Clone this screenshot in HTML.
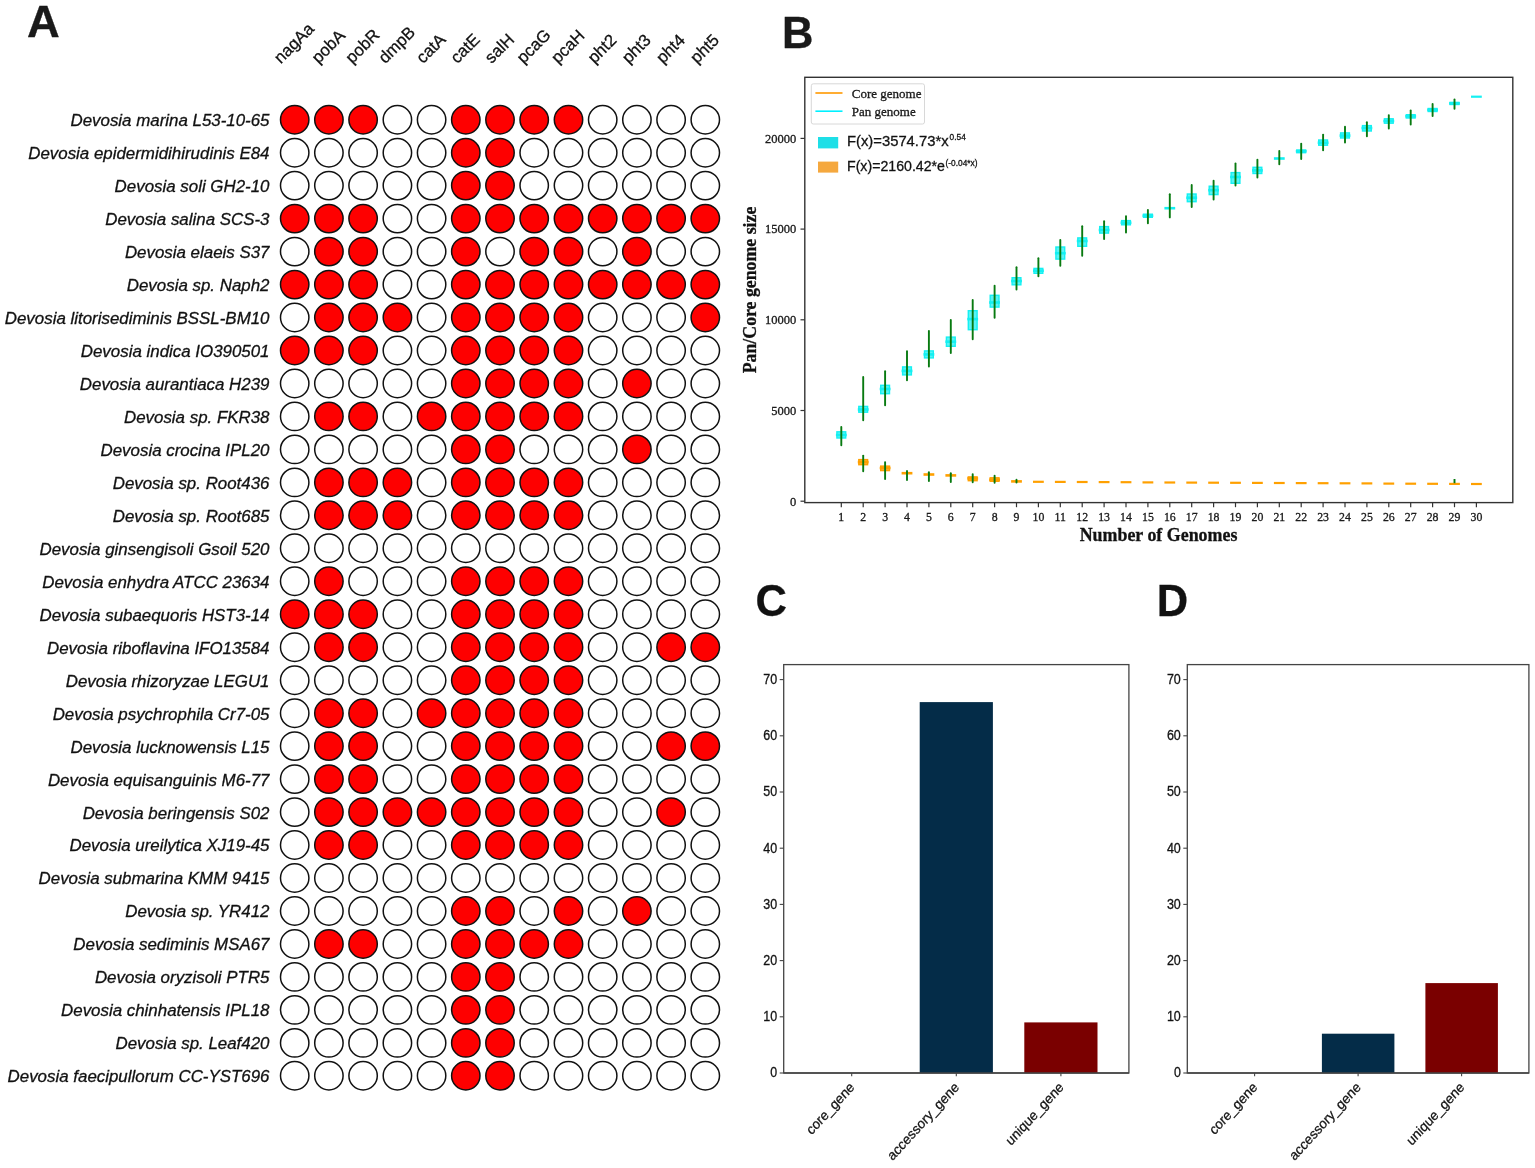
<!DOCTYPE html>
<html><head><meta charset="utf-8"><title>Devosia figure</title>
<style>
html,body{margin:0;padding:0;background:#fff;}
body{width:1535px;height:1168px;overflow:hidden;}
svg{display:block;}
text{stroke:#151515;stroke-width:0.3px;}
</style></head>
<body>
<svg width="1535" height="1168" viewBox="0 0 1535 1168">
<rect x="0" y="0" width="1535" height="1168" fill="#fff"/>
<text x="0" y="0" transform="translate(27 37) scale(1.02 1)" font-family='"Liberation Sans", Arial, sans-serif' font-weight="bold" font-size="44.5" fill="#1a1a1a">A</text>
<text x="280.8" y="64.3" transform="rotate(-45 280.8 64.3)" font-family='"Liberation Sans", Arial, sans-serif' font-size="16.8" fill="#111">nagAa</text>
<text x="318.4" y="64.3" transform="rotate(-45 318.4 64.3)" font-family='"Liberation Sans", Arial, sans-serif' font-size="16.8" fill="#111">pobA</text>
<text x="352.3" y="64.3" transform="rotate(-45 352.3 64.3)" font-family='"Liberation Sans", Arial, sans-serif' font-size="16.8" fill="#111">pobR</text>
<text x="385.2" y="64.3" transform="rotate(-45 385.2 64.3)" font-family='"Liberation Sans", Arial, sans-serif' font-size="16.8" fill="#111">dmpB</text>
<text x="423.0" y="64.3" transform="rotate(-45 423.0 64.3)" font-family='"Liberation Sans", Arial, sans-serif' font-size="16.8" fill="#111">catA</text>
<text x="457.2" y="64.3" transform="rotate(-45 457.2 64.3)" font-family='"Liberation Sans", Arial, sans-serif' font-size="16.8" fill="#111">catE</text>
<text x="491.5" y="64.3" transform="rotate(-45 491.5 64.3)" font-family='"Liberation Sans", Arial, sans-serif' font-size="16.8" fill="#111">salH</text>
<text x="523.4" y="64.3" transform="rotate(-45 523.4 64.3)" font-family='"Liberation Sans", Arial, sans-serif' font-size="16.8" fill="#111">pcaG</text>
<text x="557.9" y="64.3" transform="rotate(-45 557.9 64.3)" font-family='"Liberation Sans", Arial, sans-serif' font-size="16.8" fill="#111">pcaH</text>
<text x="594.4" y="64.3" transform="rotate(-45 594.4 64.3)" font-family='"Liberation Sans", Arial, sans-serif' font-size="16.8" fill="#111">pht2</text>
<text x="628.7" y="64.3" transform="rotate(-45 628.7 64.3)" font-family='"Liberation Sans", Arial, sans-serif' font-size="16.8" fill="#111">pht3</text>
<text x="662.9" y="64.3" transform="rotate(-45 662.9 64.3)" font-family='"Liberation Sans", Arial, sans-serif' font-size="16.8" fill="#111">pht4</text>
<text x="697.1" y="64.3" transform="rotate(-45 697.1 64.3)" font-family='"Liberation Sans", Arial, sans-serif' font-size="16.8" fill="#111">pht5</text>
<text x="269.5" y="126.1" text-anchor="end" font-family='"Liberation Sans", Arial, sans-serif' font-style="italic" font-size="16.9" fill="#111">Devosia marina L53-10-65</text>
<circle cx="294.7" cy="119.7" r="14.2" fill="#fe0000" stroke="#111" stroke-width="1.5"/>
<circle cx="328.9" cy="119.7" r="14.2" fill="#fe0000" stroke="#111" stroke-width="1.5"/>
<circle cx="363.1" cy="119.7" r="14.2" fill="#fe0000" stroke="#111" stroke-width="1.5"/>
<circle cx="397.4" cy="119.7" r="14.2" fill="#ffffff" stroke="#111" stroke-width="1.5"/>
<circle cx="431.6" cy="119.7" r="14.2" fill="#ffffff" stroke="#111" stroke-width="1.5"/>
<circle cx="465.8" cy="119.7" r="14.2" fill="#fe0000" stroke="#111" stroke-width="1.5"/>
<circle cx="500.0" cy="119.7" r="14.2" fill="#fe0000" stroke="#111" stroke-width="1.5"/>
<circle cx="534.2" cy="119.7" r="14.2" fill="#fe0000" stroke="#111" stroke-width="1.5"/>
<circle cx="568.5" cy="119.7" r="14.2" fill="#fe0000" stroke="#111" stroke-width="1.5"/>
<circle cx="602.7" cy="119.7" r="14.2" fill="#ffffff" stroke="#111" stroke-width="1.5"/>
<circle cx="636.9" cy="119.7" r="14.2" fill="#ffffff" stroke="#111" stroke-width="1.5"/>
<circle cx="671.1" cy="119.7" r="14.2" fill="#ffffff" stroke="#111" stroke-width="1.5"/>
<circle cx="705.3" cy="119.7" r="14.2" fill="#ffffff" stroke="#111" stroke-width="1.5"/>
<text x="269.5" y="159.1" text-anchor="end" font-family='"Liberation Sans", Arial, sans-serif' font-style="italic" font-size="16.9" fill="#111">Devosia epidermidihirudinis E84</text>
<circle cx="294.7" cy="152.7" r="14.2" fill="#ffffff" stroke="#111" stroke-width="1.5"/>
<circle cx="328.9" cy="152.7" r="14.2" fill="#ffffff" stroke="#111" stroke-width="1.5"/>
<circle cx="363.1" cy="152.7" r="14.2" fill="#ffffff" stroke="#111" stroke-width="1.5"/>
<circle cx="397.4" cy="152.7" r="14.2" fill="#ffffff" stroke="#111" stroke-width="1.5"/>
<circle cx="431.6" cy="152.7" r="14.2" fill="#ffffff" stroke="#111" stroke-width="1.5"/>
<circle cx="465.8" cy="152.7" r="14.2" fill="#fe0000" stroke="#111" stroke-width="1.5"/>
<circle cx="500.0" cy="152.7" r="14.2" fill="#fe0000" stroke="#111" stroke-width="1.5"/>
<circle cx="534.2" cy="152.7" r="14.2" fill="#ffffff" stroke="#111" stroke-width="1.5"/>
<circle cx="568.5" cy="152.7" r="14.2" fill="#ffffff" stroke="#111" stroke-width="1.5"/>
<circle cx="602.7" cy="152.7" r="14.2" fill="#ffffff" stroke="#111" stroke-width="1.5"/>
<circle cx="636.9" cy="152.7" r="14.2" fill="#ffffff" stroke="#111" stroke-width="1.5"/>
<circle cx="671.1" cy="152.7" r="14.2" fill="#ffffff" stroke="#111" stroke-width="1.5"/>
<circle cx="705.3" cy="152.7" r="14.2" fill="#ffffff" stroke="#111" stroke-width="1.5"/>
<text x="269.5" y="192.0" text-anchor="end" font-family='"Liberation Sans", Arial, sans-serif' font-style="italic" font-size="16.9" fill="#111">Devosia soli GH2-10</text>
<circle cx="294.7" cy="185.6" r="14.2" fill="#ffffff" stroke="#111" stroke-width="1.5"/>
<circle cx="328.9" cy="185.6" r="14.2" fill="#ffffff" stroke="#111" stroke-width="1.5"/>
<circle cx="363.1" cy="185.6" r="14.2" fill="#ffffff" stroke="#111" stroke-width="1.5"/>
<circle cx="397.4" cy="185.6" r="14.2" fill="#ffffff" stroke="#111" stroke-width="1.5"/>
<circle cx="431.6" cy="185.6" r="14.2" fill="#ffffff" stroke="#111" stroke-width="1.5"/>
<circle cx="465.8" cy="185.6" r="14.2" fill="#fe0000" stroke="#111" stroke-width="1.5"/>
<circle cx="500.0" cy="185.6" r="14.2" fill="#fe0000" stroke="#111" stroke-width="1.5"/>
<circle cx="534.2" cy="185.6" r="14.2" fill="#ffffff" stroke="#111" stroke-width="1.5"/>
<circle cx="568.5" cy="185.6" r="14.2" fill="#ffffff" stroke="#111" stroke-width="1.5"/>
<circle cx="602.7" cy="185.6" r="14.2" fill="#ffffff" stroke="#111" stroke-width="1.5"/>
<circle cx="636.9" cy="185.6" r="14.2" fill="#ffffff" stroke="#111" stroke-width="1.5"/>
<circle cx="671.1" cy="185.6" r="14.2" fill="#ffffff" stroke="#111" stroke-width="1.5"/>
<circle cx="705.3" cy="185.6" r="14.2" fill="#ffffff" stroke="#111" stroke-width="1.5"/>
<text x="269.5" y="225.0" text-anchor="end" font-family='"Liberation Sans", Arial, sans-serif' font-style="italic" font-size="16.9" fill="#111">Devosia salina SCS-3</text>
<circle cx="294.7" cy="218.6" r="14.2" fill="#fe0000" stroke="#111" stroke-width="1.5"/>
<circle cx="328.9" cy="218.6" r="14.2" fill="#fe0000" stroke="#111" stroke-width="1.5"/>
<circle cx="363.1" cy="218.6" r="14.2" fill="#fe0000" stroke="#111" stroke-width="1.5"/>
<circle cx="397.4" cy="218.6" r="14.2" fill="#ffffff" stroke="#111" stroke-width="1.5"/>
<circle cx="431.6" cy="218.6" r="14.2" fill="#ffffff" stroke="#111" stroke-width="1.5"/>
<circle cx="465.8" cy="218.6" r="14.2" fill="#fe0000" stroke="#111" stroke-width="1.5"/>
<circle cx="500.0" cy="218.6" r="14.2" fill="#fe0000" stroke="#111" stroke-width="1.5"/>
<circle cx="534.2" cy="218.6" r="14.2" fill="#fe0000" stroke="#111" stroke-width="1.5"/>
<circle cx="568.5" cy="218.6" r="14.2" fill="#fe0000" stroke="#111" stroke-width="1.5"/>
<circle cx="602.7" cy="218.6" r="14.2" fill="#fe0000" stroke="#111" stroke-width="1.5"/>
<circle cx="636.9" cy="218.6" r="14.2" fill="#fe0000" stroke="#111" stroke-width="1.5"/>
<circle cx="671.1" cy="218.6" r="14.2" fill="#fe0000" stroke="#111" stroke-width="1.5"/>
<circle cx="705.3" cy="218.6" r="14.2" fill="#fe0000" stroke="#111" stroke-width="1.5"/>
<text x="269.5" y="258.0" text-anchor="end" font-family='"Liberation Sans", Arial, sans-serif' font-style="italic" font-size="16.9" fill="#111">Devosia elaeis S37</text>
<circle cx="294.7" cy="251.6" r="14.2" fill="#ffffff" stroke="#111" stroke-width="1.5"/>
<circle cx="328.9" cy="251.6" r="14.2" fill="#fe0000" stroke="#111" stroke-width="1.5"/>
<circle cx="363.1" cy="251.6" r="14.2" fill="#fe0000" stroke="#111" stroke-width="1.5"/>
<circle cx="397.4" cy="251.6" r="14.2" fill="#ffffff" stroke="#111" stroke-width="1.5"/>
<circle cx="431.6" cy="251.6" r="14.2" fill="#ffffff" stroke="#111" stroke-width="1.5"/>
<circle cx="465.8" cy="251.6" r="14.2" fill="#fe0000" stroke="#111" stroke-width="1.5"/>
<circle cx="500.0" cy="251.6" r="14.2" fill="#ffffff" stroke="#111" stroke-width="1.5"/>
<circle cx="534.2" cy="251.6" r="14.2" fill="#fe0000" stroke="#111" stroke-width="1.5"/>
<circle cx="568.5" cy="251.6" r="14.2" fill="#fe0000" stroke="#111" stroke-width="1.5"/>
<circle cx="602.7" cy="251.6" r="14.2" fill="#ffffff" stroke="#111" stroke-width="1.5"/>
<circle cx="636.9" cy="251.6" r="14.2" fill="#fe0000" stroke="#111" stroke-width="1.5"/>
<circle cx="671.1" cy="251.6" r="14.2" fill="#ffffff" stroke="#111" stroke-width="1.5"/>
<circle cx="705.3" cy="251.6" r="14.2" fill="#ffffff" stroke="#111" stroke-width="1.5"/>
<text x="269.5" y="290.9" text-anchor="end" font-family='"Liberation Sans", Arial, sans-serif' font-style="italic" font-size="16.9" fill="#111">Devosia sp. Naph2</text>
<circle cx="294.7" cy="284.6" r="14.2" fill="#fe0000" stroke="#111" stroke-width="1.5"/>
<circle cx="328.9" cy="284.6" r="14.2" fill="#fe0000" stroke="#111" stroke-width="1.5"/>
<circle cx="363.1" cy="284.6" r="14.2" fill="#fe0000" stroke="#111" stroke-width="1.5"/>
<circle cx="397.4" cy="284.6" r="14.2" fill="#ffffff" stroke="#111" stroke-width="1.5"/>
<circle cx="431.6" cy="284.6" r="14.2" fill="#ffffff" stroke="#111" stroke-width="1.5"/>
<circle cx="465.8" cy="284.6" r="14.2" fill="#fe0000" stroke="#111" stroke-width="1.5"/>
<circle cx="500.0" cy="284.6" r="14.2" fill="#fe0000" stroke="#111" stroke-width="1.5"/>
<circle cx="534.2" cy="284.6" r="14.2" fill="#fe0000" stroke="#111" stroke-width="1.5"/>
<circle cx="568.5" cy="284.6" r="14.2" fill="#fe0000" stroke="#111" stroke-width="1.5"/>
<circle cx="602.7" cy="284.6" r="14.2" fill="#fe0000" stroke="#111" stroke-width="1.5"/>
<circle cx="636.9" cy="284.6" r="14.2" fill="#fe0000" stroke="#111" stroke-width="1.5"/>
<circle cx="671.1" cy="284.6" r="14.2" fill="#fe0000" stroke="#111" stroke-width="1.5"/>
<circle cx="705.3" cy="284.6" r="14.2" fill="#fe0000" stroke="#111" stroke-width="1.5"/>
<text x="269.5" y="323.9" text-anchor="end" font-family='"Liberation Sans", Arial, sans-serif' font-style="italic" font-size="16.9" fill="#111">Devosia litorisediminis BSSL-BM10</text>
<circle cx="294.7" cy="317.5" r="14.2" fill="#ffffff" stroke="#111" stroke-width="1.5"/>
<circle cx="328.9" cy="317.5" r="14.2" fill="#fe0000" stroke="#111" stroke-width="1.5"/>
<circle cx="363.1" cy="317.5" r="14.2" fill="#fe0000" stroke="#111" stroke-width="1.5"/>
<circle cx="397.4" cy="317.5" r="14.2" fill="#fe0000" stroke="#111" stroke-width="1.5"/>
<circle cx="431.6" cy="317.5" r="14.2" fill="#ffffff" stroke="#111" stroke-width="1.5"/>
<circle cx="465.8" cy="317.5" r="14.2" fill="#fe0000" stroke="#111" stroke-width="1.5"/>
<circle cx="500.0" cy="317.5" r="14.2" fill="#fe0000" stroke="#111" stroke-width="1.5"/>
<circle cx="534.2" cy="317.5" r="14.2" fill="#fe0000" stroke="#111" stroke-width="1.5"/>
<circle cx="568.5" cy="317.5" r="14.2" fill="#fe0000" stroke="#111" stroke-width="1.5"/>
<circle cx="602.7" cy="317.5" r="14.2" fill="#ffffff" stroke="#111" stroke-width="1.5"/>
<circle cx="636.9" cy="317.5" r="14.2" fill="#ffffff" stroke="#111" stroke-width="1.5"/>
<circle cx="671.1" cy="317.5" r="14.2" fill="#ffffff" stroke="#111" stroke-width="1.5"/>
<circle cx="705.3" cy="317.5" r="14.2" fill="#fe0000" stroke="#111" stroke-width="1.5"/>
<text x="269.5" y="356.9" text-anchor="end" font-family='"Liberation Sans", Arial, sans-serif' font-style="italic" font-size="16.9" fill="#111">Devosia indica IO390501</text>
<circle cx="294.7" cy="350.5" r="14.2" fill="#fe0000" stroke="#111" stroke-width="1.5"/>
<circle cx="328.9" cy="350.5" r="14.2" fill="#fe0000" stroke="#111" stroke-width="1.5"/>
<circle cx="363.1" cy="350.5" r="14.2" fill="#fe0000" stroke="#111" stroke-width="1.5"/>
<circle cx="397.4" cy="350.5" r="14.2" fill="#ffffff" stroke="#111" stroke-width="1.5"/>
<circle cx="431.6" cy="350.5" r="14.2" fill="#ffffff" stroke="#111" stroke-width="1.5"/>
<circle cx="465.8" cy="350.5" r="14.2" fill="#fe0000" stroke="#111" stroke-width="1.5"/>
<circle cx="500.0" cy="350.5" r="14.2" fill="#fe0000" stroke="#111" stroke-width="1.5"/>
<circle cx="534.2" cy="350.5" r="14.2" fill="#fe0000" stroke="#111" stroke-width="1.5"/>
<circle cx="568.5" cy="350.5" r="14.2" fill="#fe0000" stroke="#111" stroke-width="1.5"/>
<circle cx="602.7" cy="350.5" r="14.2" fill="#ffffff" stroke="#111" stroke-width="1.5"/>
<circle cx="636.9" cy="350.5" r="14.2" fill="#ffffff" stroke="#111" stroke-width="1.5"/>
<circle cx="671.1" cy="350.5" r="14.2" fill="#ffffff" stroke="#111" stroke-width="1.5"/>
<circle cx="705.3" cy="350.5" r="14.2" fill="#ffffff" stroke="#111" stroke-width="1.5"/>
<text x="269.5" y="389.9" text-anchor="end" font-family='"Liberation Sans", Arial, sans-serif' font-style="italic" font-size="16.9" fill="#111">Devosia aurantiaca H239</text>
<circle cx="294.7" cy="383.5" r="14.2" fill="#ffffff" stroke="#111" stroke-width="1.5"/>
<circle cx="328.9" cy="383.5" r="14.2" fill="#ffffff" stroke="#111" stroke-width="1.5"/>
<circle cx="363.1" cy="383.5" r="14.2" fill="#ffffff" stroke="#111" stroke-width="1.5"/>
<circle cx="397.4" cy="383.5" r="14.2" fill="#ffffff" stroke="#111" stroke-width="1.5"/>
<circle cx="431.6" cy="383.5" r="14.2" fill="#ffffff" stroke="#111" stroke-width="1.5"/>
<circle cx="465.8" cy="383.5" r="14.2" fill="#fe0000" stroke="#111" stroke-width="1.5"/>
<circle cx="500.0" cy="383.5" r="14.2" fill="#fe0000" stroke="#111" stroke-width="1.5"/>
<circle cx="534.2" cy="383.5" r="14.2" fill="#fe0000" stroke="#111" stroke-width="1.5"/>
<circle cx="568.5" cy="383.5" r="14.2" fill="#fe0000" stroke="#111" stroke-width="1.5"/>
<circle cx="602.7" cy="383.5" r="14.2" fill="#ffffff" stroke="#111" stroke-width="1.5"/>
<circle cx="636.9" cy="383.5" r="14.2" fill="#fe0000" stroke="#111" stroke-width="1.5"/>
<circle cx="671.1" cy="383.5" r="14.2" fill="#ffffff" stroke="#111" stroke-width="1.5"/>
<circle cx="705.3" cy="383.5" r="14.2" fill="#ffffff" stroke="#111" stroke-width="1.5"/>
<text x="269.5" y="422.8" text-anchor="end" font-family='"Liberation Sans", Arial, sans-serif' font-style="italic" font-size="16.9" fill="#111">Devosia sp. FKR38</text>
<circle cx="294.7" cy="416.4" r="14.2" fill="#ffffff" stroke="#111" stroke-width="1.5"/>
<circle cx="328.9" cy="416.4" r="14.2" fill="#fe0000" stroke="#111" stroke-width="1.5"/>
<circle cx="363.1" cy="416.4" r="14.2" fill="#fe0000" stroke="#111" stroke-width="1.5"/>
<circle cx="397.4" cy="416.4" r="14.2" fill="#ffffff" stroke="#111" stroke-width="1.5"/>
<circle cx="431.6" cy="416.4" r="14.2" fill="#fe0000" stroke="#111" stroke-width="1.5"/>
<circle cx="465.8" cy="416.4" r="14.2" fill="#fe0000" stroke="#111" stroke-width="1.5"/>
<circle cx="500.0" cy="416.4" r="14.2" fill="#fe0000" stroke="#111" stroke-width="1.5"/>
<circle cx="534.2" cy="416.4" r="14.2" fill="#fe0000" stroke="#111" stroke-width="1.5"/>
<circle cx="568.5" cy="416.4" r="14.2" fill="#fe0000" stroke="#111" stroke-width="1.5"/>
<circle cx="602.7" cy="416.4" r="14.2" fill="#ffffff" stroke="#111" stroke-width="1.5"/>
<circle cx="636.9" cy="416.4" r="14.2" fill="#ffffff" stroke="#111" stroke-width="1.5"/>
<circle cx="671.1" cy="416.4" r="14.2" fill="#ffffff" stroke="#111" stroke-width="1.5"/>
<circle cx="705.3" cy="416.4" r="14.2" fill="#ffffff" stroke="#111" stroke-width="1.5"/>
<text x="269.5" y="455.8" text-anchor="end" font-family='"Liberation Sans", Arial, sans-serif' font-style="italic" font-size="16.9" fill="#111">Devosia crocina IPL20</text>
<circle cx="294.7" cy="449.4" r="14.2" fill="#ffffff" stroke="#111" stroke-width="1.5"/>
<circle cx="328.9" cy="449.4" r="14.2" fill="#ffffff" stroke="#111" stroke-width="1.5"/>
<circle cx="363.1" cy="449.4" r="14.2" fill="#ffffff" stroke="#111" stroke-width="1.5"/>
<circle cx="397.4" cy="449.4" r="14.2" fill="#ffffff" stroke="#111" stroke-width="1.5"/>
<circle cx="431.6" cy="449.4" r="14.2" fill="#ffffff" stroke="#111" stroke-width="1.5"/>
<circle cx="465.8" cy="449.4" r="14.2" fill="#fe0000" stroke="#111" stroke-width="1.5"/>
<circle cx="500.0" cy="449.4" r="14.2" fill="#fe0000" stroke="#111" stroke-width="1.5"/>
<circle cx="534.2" cy="449.4" r="14.2" fill="#ffffff" stroke="#111" stroke-width="1.5"/>
<circle cx="568.5" cy="449.4" r="14.2" fill="#ffffff" stroke="#111" stroke-width="1.5"/>
<circle cx="602.7" cy="449.4" r="14.2" fill="#ffffff" stroke="#111" stroke-width="1.5"/>
<circle cx="636.9" cy="449.4" r="14.2" fill="#fe0000" stroke="#111" stroke-width="1.5"/>
<circle cx="671.1" cy="449.4" r="14.2" fill="#ffffff" stroke="#111" stroke-width="1.5"/>
<circle cx="705.3" cy="449.4" r="14.2" fill="#ffffff" stroke="#111" stroke-width="1.5"/>
<text x="269.5" y="488.8" text-anchor="end" font-family='"Liberation Sans", Arial, sans-serif' font-style="italic" font-size="16.9" fill="#111">Devosia sp. Root436</text>
<circle cx="294.7" cy="482.4" r="14.2" fill="#ffffff" stroke="#111" stroke-width="1.5"/>
<circle cx="328.9" cy="482.4" r="14.2" fill="#fe0000" stroke="#111" stroke-width="1.5"/>
<circle cx="363.1" cy="482.4" r="14.2" fill="#fe0000" stroke="#111" stroke-width="1.5"/>
<circle cx="397.4" cy="482.4" r="14.2" fill="#fe0000" stroke="#111" stroke-width="1.5"/>
<circle cx="431.6" cy="482.4" r="14.2" fill="#ffffff" stroke="#111" stroke-width="1.5"/>
<circle cx="465.8" cy="482.4" r="14.2" fill="#fe0000" stroke="#111" stroke-width="1.5"/>
<circle cx="500.0" cy="482.4" r="14.2" fill="#fe0000" stroke="#111" stroke-width="1.5"/>
<circle cx="534.2" cy="482.4" r="14.2" fill="#fe0000" stroke="#111" stroke-width="1.5"/>
<circle cx="568.5" cy="482.4" r="14.2" fill="#fe0000" stroke="#111" stroke-width="1.5"/>
<circle cx="602.7" cy="482.4" r="14.2" fill="#ffffff" stroke="#111" stroke-width="1.5"/>
<circle cx="636.9" cy="482.4" r="14.2" fill="#ffffff" stroke="#111" stroke-width="1.5"/>
<circle cx="671.1" cy="482.4" r="14.2" fill="#ffffff" stroke="#111" stroke-width="1.5"/>
<circle cx="705.3" cy="482.4" r="14.2" fill="#ffffff" stroke="#111" stroke-width="1.5"/>
<text x="269.5" y="521.7" text-anchor="end" font-family='"Liberation Sans", Arial, sans-serif' font-style="italic" font-size="16.9" fill="#111">Devosia sp. Root685</text>
<circle cx="294.7" cy="515.3" r="14.2" fill="#ffffff" stroke="#111" stroke-width="1.5"/>
<circle cx="328.9" cy="515.3" r="14.2" fill="#fe0000" stroke="#111" stroke-width="1.5"/>
<circle cx="363.1" cy="515.3" r="14.2" fill="#fe0000" stroke="#111" stroke-width="1.5"/>
<circle cx="397.4" cy="515.3" r="14.2" fill="#fe0000" stroke="#111" stroke-width="1.5"/>
<circle cx="431.6" cy="515.3" r="14.2" fill="#ffffff" stroke="#111" stroke-width="1.5"/>
<circle cx="465.8" cy="515.3" r="14.2" fill="#fe0000" stroke="#111" stroke-width="1.5"/>
<circle cx="500.0" cy="515.3" r="14.2" fill="#fe0000" stroke="#111" stroke-width="1.5"/>
<circle cx="534.2" cy="515.3" r="14.2" fill="#fe0000" stroke="#111" stroke-width="1.5"/>
<circle cx="568.5" cy="515.3" r="14.2" fill="#fe0000" stroke="#111" stroke-width="1.5"/>
<circle cx="602.7" cy="515.3" r="14.2" fill="#ffffff" stroke="#111" stroke-width="1.5"/>
<circle cx="636.9" cy="515.3" r="14.2" fill="#ffffff" stroke="#111" stroke-width="1.5"/>
<circle cx="671.1" cy="515.3" r="14.2" fill="#ffffff" stroke="#111" stroke-width="1.5"/>
<circle cx="705.3" cy="515.3" r="14.2" fill="#ffffff" stroke="#111" stroke-width="1.5"/>
<text x="269.5" y="554.7" text-anchor="end" font-family='"Liberation Sans", Arial, sans-serif' font-style="italic" font-size="16.9" fill="#111">Devosia ginsengisoli Gsoil 520</text>
<circle cx="294.7" cy="548.3" r="14.2" fill="#ffffff" stroke="#111" stroke-width="1.5"/>
<circle cx="328.9" cy="548.3" r="14.2" fill="#ffffff" stroke="#111" stroke-width="1.5"/>
<circle cx="363.1" cy="548.3" r="14.2" fill="#ffffff" stroke="#111" stroke-width="1.5"/>
<circle cx="397.4" cy="548.3" r="14.2" fill="#ffffff" stroke="#111" stroke-width="1.5"/>
<circle cx="431.6" cy="548.3" r="14.2" fill="#ffffff" stroke="#111" stroke-width="1.5"/>
<circle cx="465.8" cy="548.3" r="14.2" fill="#ffffff" stroke="#111" stroke-width="1.5"/>
<circle cx="500.0" cy="548.3" r="14.2" fill="#ffffff" stroke="#111" stroke-width="1.5"/>
<circle cx="534.2" cy="548.3" r="14.2" fill="#ffffff" stroke="#111" stroke-width="1.5"/>
<circle cx="568.5" cy="548.3" r="14.2" fill="#ffffff" stroke="#111" stroke-width="1.5"/>
<circle cx="602.7" cy="548.3" r="14.2" fill="#ffffff" stroke="#111" stroke-width="1.5"/>
<circle cx="636.9" cy="548.3" r="14.2" fill="#ffffff" stroke="#111" stroke-width="1.5"/>
<circle cx="671.1" cy="548.3" r="14.2" fill="#ffffff" stroke="#111" stroke-width="1.5"/>
<circle cx="705.3" cy="548.3" r="14.2" fill="#ffffff" stroke="#111" stroke-width="1.5"/>
<text x="269.5" y="587.7" text-anchor="end" font-family='"Liberation Sans", Arial, sans-serif' font-style="italic" font-size="16.9" fill="#111">Devosia enhydra ATCC 23634</text>
<circle cx="294.7" cy="581.3" r="14.2" fill="#ffffff" stroke="#111" stroke-width="1.5"/>
<circle cx="328.9" cy="581.3" r="14.2" fill="#fe0000" stroke="#111" stroke-width="1.5"/>
<circle cx="363.1" cy="581.3" r="14.2" fill="#ffffff" stroke="#111" stroke-width="1.5"/>
<circle cx="397.4" cy="581.3" r="14.2" fill="#ffffff" stroke="#111" stroke-width="1.5"/>
<circle cx="431.6" cy="581.3" r="14.2" fill="#ffffff" stroke="#111" stroke-width="1.5"/>
<circle cx="465.8" cy="581.3" r="14.2" fill="#fe0000" stroke="#111" stroke-width="1.5"/>
<circle cx="500.0" cy="581.3" r="14.2" fill="#fe0000" stroke="#111" stroke-width="1.5"/>
<circle cx="534.2" cy="581.3" r="14.2" fill="#fe0000" stroke="#111" stroke-width="1.5"/>
<circle cx="568.5" cy="581.3" r="14.2" fill="#fe0000" stroke="#111" stroke-width="1.5"/>
<circle cx="602.7" cy="581.3" r="14.2" fill="#ffffff" stroke="#111" stroke-width="1.5"/>
<circle cx="636.9" cy="581.3" r="14.2" fill="#ffffff" stroke="#111" stroke-width="1.5"/>
<circle cx="671.1" cy="581.3" r="14.2" fill="#ffffff" stroke="#111" stroke-width="1.5"/>
<circle cx="705.3" cy="581.3" r="14.2" fill="#ffffff" stroke="#111" stroke-width="1.5"/>
<text x="269.5" y="620.6" text-anchor="end" font-family='"Liberation Sans", Arial, sans-serif' font-style="italic" font-size="16.9" fill="#111">Devosia subaequoris HST3-14</text>
<circle cx="294.7" cy="614.2" r="14.2" fill="#fe0000" stroke="#111" stroke-width="1.5"/>
<circle cx="328.9" cy="614.2" r="14.2" fill="#fe0000" stroke="#111" stroke-width="1.5"/>
<circle cx="363.1" cy="614.2" r="14.2" fill="#fe0000" stroke="#111" stroke-width="1.5"/>
<circle cx="397.4" cy="614.2" r="14.2" fill="#ffffff" stroke="#111" stroke-width="1.5"/>
<circle cx="431.6" cy="614.2" r="14.2" fill="#ffffff" stroke="#111" stroke-width="1.5"/>
<circle cx="465.8" cy="614.2" r="14.2" fill="#fe0000" stroke="#111" stroke-width="1.5"/>
<circle cx="500.0" cy="614.2" r="14.2" fill="#fe0000" stroke="#111" stroke-width="1.5"/>
<circle cx="534.2" cy="614.2" r="14.2" fill="#fe0000" stroke="#111" stroke-width="1.5"/>
<circle cx="568.5" cy="614.2" r="14.2" fill="#fe0000" stroke="#111" stroke-width="1.5"/>
<circle cx="602.7" cy="614.2" r="14.2" fill="#ffffff" stroke="#111" stroke-width="1.5"/>
<circle cx="636.9" cy="614.2" r="14.2" fill="#ffffff" stroke="#111" stroke-width="1.5"/>
<circle cx="671.1" cy="614.2" r="14.2" fill="#ffffff" stroke="#111" stroke-width="1.5"/>
<circle cx="705.3" cy="614.2" r="14.2" fill="#ffffff" stroke="#111" stroke-width="1.5"/>
<text x="269.5" y="653.6" text-anchor="end" font-family='"Liberation Sans", Arial, sans-serif' font-style="italic" font-size="16.9" fill="#111">Devosia riboflavina IFO13584</text>
<circle cx="294.7" cy="647.2" r="14.2" fill="#ffffff" stroke="#111" stroke-width="1.5"/>
<circle cx="328.9" cy="647.2" r="14.2" fill="#fe0000" stroke="#111" stroke-width="1.5"/>
<circle cx="363.1" cy="647.2" r="14.2" fill="#fe0000" stroke="#111" stroke-width="1.5"/>
<circle cx="397.4" cy="647.2" r="14.2" fill="#ffffff" stroke="#111" stroke-width="1.5"/>
<circle cx="431.6" cy="647.2" r="14.2" fill="#ffffff" stroke="#111" stroke-width="1.5"/>
<circle cx="465.8" cy="647.2" r="14.2" fill="#fe0000" stroke="#111" stroke-width="1.5"/>
<circle cx="500.0" cy="647.2" r="14.2" fill="#fe0000" stroke="#111" stroke-width="1.5"/>
<circle cx="534.2" cy="647.2" r="14.2" fill="#fe0000" stroke="#111" stroke-width="1.5"/>
<circle cx="568.5" cy="647.2" r="14.2" fill="#fe0000" stroke="#111" stroke-width="1.5"/>
<circle cx="602.7" cy="647.2" r="14.2" fill="#ffffff" stroke="#111" stroke-width="1.5"/>
<circle cx="636.9" cy="647.2" r="14.2" fill="#ffffff" stroke="#111" stroke-width="1.5"/>
<circle cx="671.1" cy="647.2" r="14.2" fill="#fe0000" stroke="#111" stroke-width="1.5"/>
<circle cx="705.3" cy="647.2" r="14.2" fill="#fe0000" stroke="#111" stroke-width="1.5"/>
<text x="269.5" y="686.6" text-anchor="end" font-family='"Liberation Sans", Arial, sans-serif' font-style="italic" font-size="16.9" fill="#111">Devosia rhizoryzae LEGU1</text>
<circle cx="294.7" cy="680.2" r="14.2" fill="#ffffff" stroke="#111" stroke-width="1.5"/>
<circle cx="328.9" cy="680.2" r="14.2" fill="#ffffff" stroke="#111" stroke-width="1.5"/>
<circle cx="363.1" cy="680.2" r="14.2" fill="#ffffff" stroke="#111" stroke-width="1.5"/>
<circle cx="397.4" cy="680.2" r="14.2" fill="#ffffff" stroke="#111" stroke-width="1.5"/>
<circle cx="431.6" cy="680.2" r="14.2" fill="#ffffff" stroke="#111" stroke-width="1.5"/>
<circle cx="465.8" cy="680.2" r="14.2" fill="#fe0000" stroke="#111" stroke-width="1.5"/>
<circle cx="500.0" cy="680.2" r="14.2" fill="#fe0000" stroke="#111" stroke-width="1.5"/>
<circle cx="534.2" cy="680.2" r="14.2" fill="#fe0000" stroke="#111" stroke-width="1.5"/>
<circle cx="568.5" cy="680.2" r="14.2" fill="#fe0000" stroke="#111" stroke-width="1.5"/>
<circle cx="602.7" cy="680.2" r="14.2" fill="#ffffff" stroke="#111" stroke-width="1.5"/>
<circle cx="636.9" cy="680.2" r="14.2" fill="#ffffff" stroke="#111" stroke-width="1.5"/>
<circle cx="671.1" cy="680.2" r="14.2" fill="#ffffff" stroke="#111" stroke-width="1.5"/>
<circle cx="705.3" cy="680.2" r="14.2" fill="#ffffff" stroke="#111" stroke-width="1.5"/>
<text x="269.5" y="719.6" text-anchor="end" font-family='"Liberation Sans", Arial, sans-serif' font-style="italic" font-size="16.9" fill="#111">Devosia psychrophila Cr7-05</text>
<circle cx="294.7" cy="713.2" r="14.2" fill="#ffffff" stroke="#111" stroke-width="1.5"/>
<circle cx="328.9" cy="713.2" r="14.2" fill="#fe0000" stroke="#111" stroke-width="1.5"/>
<circle cx="363.1" cy="713.2" r="14.2" fill="#fe0000" stroke="#111" stroke-width="1.5"/>
<circle cx="397.4" cy="713.2" r="14.2" fill="#ffffff" stroke="#111" stroke-width="1.5"/>
<circle cx="431.6" cy="713.2" r="14.2" fill="#fe0000" stroke="#111" stroke-width="1.5"/>
<circle cx="465.8" cy="713.2" r="14.2" fill="#fe0000" stroke="#111" stroke-width="1.5"/>
<circle cx="500.0" cy="713.2" r="14.2" fill="#fe0000" stroke="#111" stroke-width="1.5"/>
<circle cx="534.2" cy="713.2" r="14.2" fill="#fe0000" stroke="#111" stroke-width="1.5"/>
<circle cx="568.5" cy="713.2" r="14.2" fill="#fe0000" stroke="#111" stroke-width="1.5"/>
<circle cx="602.7" cy="713.2" r="14.2" fill="#ffffff" stroke="#111" stroke-width="1.5"/>
<circle cx="636.9" cy="713.2" r="14.2" fill="#ffffff" stroke="#111" stroke-width="1.5"/>
<circle cx="671.1" cy="713.2" r="14.2" fill="#ffffff" stroke="#111" stroke-width="1.5"/>
<circle cx="705.3" cy="713.2" r="14.2" fill="#ffffff" stroke="#111" stroke-width="1.5"/>
<text x="269.5" y="752.5" text-anchor="end" font-family='"Liberation Sans", Arial, sans-serif' font-style="italic" font-size="16.9" fill="#111">Devosia lucknowensis L15</text>
<circle cx="294.7" cy="746.1" r="14.2" fill="#ffffff" stroke="#111" stroke-width="1.5"/>
<circle cx="328.9" cy="746.1" r="14.2" fill="#fe0000" stroke="#111" stroke-width="1.5"/>
<circle cx="363.1" cy="746.1" r="14.2" fill="#fe0000" stroke="#111" stroke-width="1.5"/>
<circle cx="397.4" cy="746.1" r="14.2" fill="#ffffff" stroke="#111" stroke-width="1.5"/>
<circle cx="431.6" cy="746.1" r="14.2" fill="#ffffff" stroke="#111" stroke-width="1.5"/>
<circle cx="465.8" cy="746.1" r="14.2" fill="#fe0000" stroke="#111" stroke-width="1.5"/>
<circle cx="500.0" cy="746.1" r="14.2" fill="#fe0000" stroke="#111" stroke-width="1.5"/>
<circle cx="534.2" cy="746.1" r="14.2" fill="#fe0000" stroke="#111" stroke-width="1.5"/>
<circle cx="568.5" cy="746.1" r="14.2" fill="#fe0000" stroke="#111" stroke-width="1.5"/>
<circle cx="602.7" cy="746.1" r="14.2" fill="#ffffff" stroke="#111" stroke-width="1.5"/>
<circle cx="636.9" cy="746.1" r="14.2" fill="#ffffff" stroke="#111" stroke-width="1.5"/>
<circle cx="671.1" cy="746.1" r="14.2" fill="#fe0000" stroke="#111" stroke-width="1.5"/>
<circle cx="705.3" cy="746.1" r="14.2" fill="#fe0000" stroke="#111" stroke-width="1.5"/>
<text x="269.5" y="785.5" text-anchor="end" font-family='"Liberation Sans", Arial, sans-serif' font-style="italic" font-size="16.9" fill="#111">Devosia equisanguinis M6-77</text>
<circle cx="294.7" cy="779.1" r="14.2" fill="#ffffff" stroke="#111" stroke-width="1.5"/>
<circle cx="328.9" cy="779.1" r="14.2" fill="#fe0000" stroke="#111" stroke-width="1.5"/>
<circle cx="363.1" cy="779.1" r="14.2" fill="#fe0000" stroke="#111" stroke-width="1.5"/>
<circle cx="397.4" cy="779.1" r="14.2" fill="#ffffff" stroke="#111" stroke-width="1.5"/>
<circle cx="431.6" cy="779.1" r="14.2" fill="#ffffff" stroke="#111" stroke-width="1.5"/>
<circle cx="465.8" cy="779.1" r="14.2" fill="#fe0000" stroke="#111" stroke-width="1.5"/>
<circle cx="500.0" cy="779.1" r="14.2" fill="#fe0000" stroke="#111" stroke-width="1.5"/>
<circle cx="534.2" cy="779.1" r="14.2" fill="#fe0000" stroke="#111" stroke-width="1.5"/>
<circle cx="568.5" cy="779.1" r="14.2" fill="#fe0000" stroke="#111" stroke-width="1.5"/>
<circle cx="602.7" cy="779.1" r="14.2" fill="#ffffff" stroke="#111" stroke-width="1.5"/>
<circle cx="636.9" cy="779.1" r="14.2" fill="#ffffff" stroke="#111" stroke-width="1.5"/>
<circle cx="671.1" cy="779.1" r="14.2" fill="#ffffff" stroke="#111" stroke-width="1.5"/>
<circle cx="705.3" cy="779.1" r="14.2" fill="#ffffff" stroke="#111" stroke-width="1.5"/>
<text x="269.5" y="818.5" text-anchor="end" font-family='"Liberation Sans", Arial, sans-serif' font-style="italic" font-size="16.9" fill="#111">Devosia beringensis S02</text>
<circle cx="294.7" cy="812.1" r="14.2" fill="#ffffff" stroke="#111" stroke-width="1.5"/>
<circle cx="328.9" cy="812.1" r="14.2" fill="#fe0000" stroke="#111" stroke-width="1.5"/>
<circle cx="363.1" cy="812.1" r="14.2" fill="#fe0000" stroke="#111" stroke-width="1.5"/>
<circle cx="397.4" cy="812.1" r="14.2" fill="#fe0000" stroke="#111" stroke-width="1.5"/>
<circle cx="431.6" cy="812.1" r="14.2" fill="#fe0000" stroke="#111" stroke-width="1.5"/>
<circle cx="465.8" cy="812.1" r="14.2" fill="#fe0000" stroke="#111" stroke-width="1.5"/>
<circle cx="500.0" cy="812.1" r="14.2" fill="#fe0000" stroke="#111" stroke-width="1.5"/>
<circle cx="534.2" cy="812.1" r="14.2" fill="#fe0000" stroke="#111" stroke-width="1.5"/>
<circle cx="568.5" cy="812.1" r="14.2" fill="#fe0000" stroke="#111" stroke-width="1.5"/>
<circle cx="602.7" cy="812.1" r="14.2" fill="#ffffff" stroke="#111" stroke-width="1.5"/>
<circle cx="636.9" cy="812.1" r="14.2" fill="#ffffff" stroke="#111" stroke-width="1.5"/>
<circle cx="671.1" cy="812.1" r="14.2" fill="#fe0000" stroke="#111" stroke-width="1.5"/>
<circle cx="705.3" cy="812.1" r="14.2" fill="#ffffff" stroke="#111" stroke-width="1.5"/>
<text x="269.5" y="851.4" text-anchor="end" font-family='"Liberation Sans", Arial, sans-serif' font-style="italic" font-size="16.9" fill="#111">Devosia ureilytica XJ19-45</text>
<circle cx="294.7" cy="845.0" r="14.2" fill="#ffffff" stroke="#111" stroke-width="1.5"/>
<circle cx="328.9" cy="845.0" r="14.2" fill="#fe0000" stroke="#111" stroke-width="1.5"/>
<circle cx="363.1" cy="845.0" r="14.2" fill="#fe0000" stroke="#111" stroke-width="1.5"/>
<circle cx="397.4" cy="845.0" r="14.2" fill="#ffffff" stroke="#111" stroke-width="1.5"/>
<circle cx="431.6" cy="845.0" r="14.2" fill="#ffffff" stroke="#111" stroke-width="1.5"/>
<circle cx="465.8" cy="845.0" r="14.2" fill="#fe0000" stroke="#111" stroke-width="1.5"/>
<circle cx="500.0" cy="845.0" r="14.2" fill="#fe0000" stroke="#111" stroke-width="1.5"/>
<circle cx="534.2" cy="845.0" r="14.2" fill="#fe0000" stroke="#111" stroke-width="1.5"/>
<circle cx="568.5" cy="845.0" r="14.2" fill="#fe0000" stroke="#111" stroke-width="1.5"/>
<circle cx="602.7" cy="845.0" r="14.2" fill="#ffffff" stroke="#111" stroke-width="1.5"/>
<circle cx="636.9" cy="845.0" r="14.2" fill="#ffffff" stroke="#111" stroke-width="1.5"/>
<circle cx="671.1" cy="845.0" r="14.2" fill="#ffffff" stroke="#111" stroke-width="1.5"/>
<circle cx="705.3" cy="845.0" r="14.2" fill="#ffffff" stroke="#111" stroke-width="1.5"/>
<text x="269.5" y="884.4" text-anchor="end" font-family='"Liberation Sans", Arial, sans-serif' font-style="italic" font-size="16.9" fill="#111">Devosia submarina KMM 9415</text>
<circle cx="294.7" cy="878.0" r="14.2" fill="#ffffff" stroke="#111" stroke-width="1.5"/>
<circle cx="328.9" cy="878.0" r="14.2" fill="#ffffff" stroke="#111" stroke-width="1.5"/>
<circle cx="363.1" cy="878.0" r="14.2" fill="#ffffff" stroke="#111" stroke-width="1.5"/>
<circle cx="397.4" cy="878.0" r="14.2" fill="#ffffff" stroke="#111" stroke-width="1.5"/>
<circle cx="431.6" cy="878.0" r="14.2" fill="#ffffff" stroke="#111" stroke-width="1.5"/>
<circle cx="465.8" cy="878.0" r="14.2" fill="#ffffff" stroke="#111" stroke-width="1.5"/>
<circle cx="500.0" cy="878.0" r="14.2" fill="#ffffff" stroke="#111" stroke-width="1.5"/>
<circle cx="534.2" cy="878.0" r="14.2" fill="#ffffff" stroke="#111" stroke-width="1.5"/>
<circle cx="568.5" cy="878.0" r="14.2" fill="#ffffff" stroke="#111" stroke-width="1.5"/>
<circle cx="602.7" cy="878.0" r="14.2" fill="#ffffff" stroke="#111" stroke-width="1.5"/>
<circle cx="636.9" cy="878.0" r="14.2" fill="#ffffff" stroke="#111" stroke-width="1.5"/>
<circle cx="671.1" cy="878.0" r="14.2" fill="#ffffff" stroke="#111" stroke-width="1.5"/>
<circle cx="705.3" cy="878.0" r="14.2" fill="#ffffff" stroke="#111" stroke-width="1.5"/>
<text x="269.5" y="917.4" text-anchor="end" font-family='"Liberation Sans", Arial, sans-serif' font-style="italic" font-size="16.9" fill="#111">Devosia sp. YR412</text>
<circle cx="294.7" cy="911.0" r="14.2" fill="#ffffff" stroke="#111" stroke-width="1.5"/>
<circle cx="328.9" cy="911.0" r="14.2" fill="#ffffff" stroke="#111" stroke-width="1.5"/>
<circle cx="363.1" cy="911.0" r="14.2" fill="#ffffff" stroke="#111" stroke-width="1.5"/>
<circle cx="397.4" cy="911.0" r="14.2" fill="#ffffff" stroke="#111" stroke-width="1.5"/>
<circle cx="431.6" cy="911.0" r="14.2" fill="#ffffff" stroke="#111" stroke-width="1.5"/>
<circle cx="465.8" cy="911.0" r="14.2" fill="#fe0000" stroke="#111" stroke-width="1.5"/>
<circle cx="500.0" cy="911.0" r="14.2" fill="#fe0000" stroke="#111" stroke-width="1.5"/>
<circle cx="534.2" cy="911.0" r="14.2" fill="#ffffff" stroke="#111" stroke-width="1.5"/>
<circle cx="568.5" cy="911.0" r="14.2" fill="#fe0000" stroke="#111" stroke-width="1.5"/>
<circle cx="602.7" cy="911.0" r="14.2" fill="#ffffff" stroke="#111" stroke-width="1.5"/>
<circle cx="636.9" cy="911.0" r="14.2" fill="#fe0000" stroke="#111" stroke-width="1.5"/>
<circle cx="671.1" cy="911.0" r="14.2" fill="#ffffff" stroke="#111" stroke-width="1.5"/>
<circle cx="705.3" cy="911.0" r="14.2" fill="#ffffff" stroke="#111" stroke-width="1.5"/>
<text x="269.5" y="950.4" text-anchor="end" font-family='"Liberation Sans", Arial, sans-serif' font-style="italic" font-size="16.9" fill="#111">Devosia sediminis MSA67</text>
<circle cx="294.7" cy="944.0" r="14.2" fill="#ffffff" stroke="#111" stroke-width="1.5"/>
<circle cx="328.9" cy="944.0" r="14.2" fill="#fe0000" stroke="#111" stroke-width="1.5"/>
<circle cx="363.1" cy="944.0" r="14.2" fill="#fe0000" stroke="#111" stroke-width="1.5"/>
<circle cx="397.4" cy="944.0" r="14.2" fill="#ffffff" stroke="#111" stroke-width="1.5"/>
<circle cx="431.6" cy="944.0" r="14.2" fill="#ffffff" stroke="#111" stroke-width="1.5"/>
<circle cx="465.8" cy="944.0" r="14.2" fill="#fe0000" stroke="#111" stroke-width="1.5"/>
<circle cx="500.0" cy="944.0" r="14.2" fill="#fe0000" stroke="#111" stroke-width="1.5"/>
<circle cx="534.2" cy="944.0" r="14.2" fill="#fe0000" stroke="#111" stroke-width="1.5"/>
<circle cx="568.5" cy="944.0" r="14.2" fill="#fe0000" stroke="#111" stroke-width="1.5"/>
<circle cx="602.7" cy="944.0" r="14.2" fill="#ffffff" stroke="#111" stroke-width="1.5"/>
<circle cx="636.9" cy="944.0" r="14.2" fill="#ffffff" stroke="#111" stroke-width="1.5"/>
<circle cx="671.1" cy="944.0" r="14.2" fill="#ffffff" stroke="#111" stroke-width="1.5"/>
<circle cx="705.3" cy="944.0" r="14.2" fill="#ffffff" stroke="#111" stroke-width="1.5"/>
<text x="269.5" y="983.3" text-anchor="end" font-family='"Liberation Sans", Arial, sans-serif' font-style="italic" font-size="16.9" fill="#111">Devosia oryzisoli PTR5</text>
<circle cx="294.7" cy="976.9" r="14.2" fill="#ffffff" stroke="#111" stroke-width="1.5"/>
<circle cx="328.9" cy="976.9" r="14.2" fill="#ffffff" stroke="#111" stroke-width="1.5"/>
<circle cx="363.1" cy="976.9" r="14.2" fill="#ffffff" stroke="#111" stroke-width="1.5"/>
<circle cx="397.4" cy="976.9" r="14.2" fill="#ffffff" stroke="#111" stroke-width="1.5"/>
<circle cx="431.6" cy="976.9" r="14.2" fill="#ffffff" stroke="#111" stroke-width="1.5"/>
<circle cx="465.8" cy="976.9" r="14.2" fill="#fe0000" stroke="#111" stroke-width="1.5"/>
<circle cx="500.0" cy="976.9" r="14.2" fill="#fe0000" stroke="#111" stroke-width="1.5"/>
<circle cx="534.2" cy="976.9" r="14.2" fill="#ffffff" stroke="#111" stroke-width="1.5"/>
<circle cx="568.5" cy="976.9" r="14.2" fill="#ffffff" stroke="#111" stroke-width="1.5"/>
<circle cx="602.7" cy="976.9" r="14.2" fill="#ffffff" stroke="#111" stroke-width="1.5"/>
<circle cx="636.9" cy="976.9" r="14.2" fill="#ffffff" stroke="#111" stroke-width="1.5"/>
<circle cx="671.1" cy="976.9" r="14.2" fill="#ffffff" stroke="#111" stroke-width="1.5"/>
<circle cx="705.3" cy="976.9" r="14.2" fill="#ffffff" stroke="#111" stroke-width="1.5"/>
<text x="269.5" y="1016.3" text-anchor="end" font-family='"Liberation Sans", Arial, sans-serif' font-style="italic" font-size="16.9" fill="#111">Devosia chinhatensis IPL18</text>
<circle cx="294.7" cy="1009.9" r="14.2" fill="#ffffff" stroke="#111" stroke-width="1.5"/>
<circle cx="328.9" cy="1009.9" r="14.2" fill="#ffffff" stroke="#111" stroke-width="1.5"/>
<circle cx="363.1" cy="1009.9" r="14.2" fill="#ffffff" stroke="#111" stroke-width="1.5"/>
<circle cx="397.4" cy="1009.9" r="14.2" fill="#ffffff" stroke="#111" stroke-width="1.5"/>
<circle cx="431.6" cy="1009.9" r="14.2" fill="#ffffff" stroke="#111" stroke-width="1.5"/>
<circle cx="465.8" cy="1009.9" r="14.2" fill="#fe0000" stroke="#111" stroke-width="1.5"/>
<circle cx="500.0" cy="1009.9" r="14.2" fill="#fe0000" stroke="#111" stroke-width="1.5"/>
<circle cx="534.2" cy="1009.9" r="14.2" fill="#ffffff" stroke="#111" stroke-width="1.5"/>
<circle cx="568.5" cy="1009.9" r="14.2" fill="#ffffff" stroke="#111" stroke-width="1.5"/>
<circle cx="602.7" cy="1009.9" r="14.2" fill="#ffffff" stroke="#111" stroke-width="1.5"/>
<circle cx="636.9" cy="1009.9" r="14.2" fill="#ffffff" stroke="#111" stroke-width="1.5"/>
<circle cx="671.1" cy="1009.9" r="14.2" fill="#ffffff" stroke="#111" stroke-width="1.5"/>
<circle cx="705.3" cy="1009.9" r="14.2" fill="#ffffff" stroke="#111" stroke-width="1.5"/>
<text x="269.5" y="1049.3" text-anchor="end" font-family='"Liberation Sans", Arial, sans-serif' font-style="italic" font-size="16.9" fill="#111">Devosia sp. Leaf420</text>
<circle cx="294.7" cy="1042.9" r="14.2" fill="#ffffff" stroke="#111" stroke-width="1.5"/>
<circle cx="328.9" cy="1042.9" r="14.2" fill="#ffffff" stroke="#111" stroke-width="1.5"/>
<circle cx="363.1" cy="1042.9" r="14.2" fill="#ffffff" stroke="#111" stroke-width="1.5"/>
<circle cx="397.4" cy="1042.9" r="14.2" fill="#ffffff" stroke="#111" stroke-width="1.5"/>
<circle cx="431.6" cy="1042.9" r="14.2" fill="#ffffff" stroke="#111" stroke-width="1.5"/>
<circle cx="465.8" cy="1042.9" r="14.2" fill="#fe0000" stroke="#111" stroke-width="1.5"/>
<circle cx="500.0" cy="1042.9" r="14.2" fill="#fe0000" stroke="#111" stroke-width="1.5"/>
<circle cx="534.2" cy="1042.9" r="14.2" fill="#ffffff" stroke="#111" stroke-width="1.5"/>
<circle cx="568.5" cy="1042.9" r="14.2" fill="#ffffff" stroke="#111" stroke-width="1.5"/>
<circle cx="602.7" cy="1042.9" r="14.2" fill="#ffffff" stroke="#111" stroke-width="1.5"/>
<circle cx="636.9" cy="1042.9" r="14.2" fill="#ffffff" stroke="#111" stroke-width="1.5"/>
<circle cx="671.1" cy="1042.9" r="14.2" fill="#ffffff" stroke="#111" stroke-width="1.5"/>
<circle cx="705.3" cy="1042.9" r="14.2" fill="#ffffff" stroke="#111" stroke-width="1.5"/>
<text x="269.5" y="1082.2" text-anchor="end" font-family='"Liberation Sans", Arial, sans-serif' font-style="italic" font-size="16.9" fill="#111">Devosia faecipullorum CC-YST696</text>
<circle cx="294.7" cy="1075.8" r="14.2" fill="#ffffff" stroke="#111" stroke-width="1.5"/>
<circle cx="328.9" cy="1075.8" r="14.2" fill="#ffffff" stroke="#111" stroke-width="1.5"/>
<circle cx="363.1" cy="1075.8" r="14.2" fill="#ffffff" stroke="#111" stroke-width="1.5"/>
<circle cx="397.4" cy="1075.8" r="14.2" fill="#ffffff" stroke="#111" stroke-width="1.5"/>
<circle cx="431.6" cy="1075.8" r="14.2" fill="#ffffff" stroke="#111" stroke-width="1.5"/>
<circle cx="465.8" cy="1075.8" r="14.2" fill="#fe0000" stroke="#111" stroke-width="1.5"/>
<circle cx="500.0" cy="1075.8" r="14.2" fill="#fe0000" stroke="#111" stroke-width="1.5"/>
<circle cx="534.2" cy="1075.8" r="14.2" fill="#ffffff" stroke="#111" stroke-width="1.5"/>
<circle cx="568.5" cy="1075.8" r="14.2" fill="#ffffff" stroke="#111" stroke-width="1.5"/>
<circle cx="602.7" cy="1075.8" r="14.2" fill="#ffffff" stroke="#111" stroke-width="1.5"/>
<circle cx="636.9" cy="1075.8" r="14.2" fill="#ffffff" stroke="#111" stroke-width="1.5"/>
<circle cx="671.1" cy="1075.8" r="14.2" fill="#ffffff" stroke="#111" stroke-width="1.5"/>
<circle cx="705.3" cy="1075.8" r="14.2" fill="#ffffff" stroke="#111" stroke-width="1.5"/>
<text x="782" y="48" font-family='"Liberation Sans", Arial, sans-serif' font-weight="bold" font-size="43.5" fill="#1a1a1a">B</text>
<rect x="804.8" y="77.3" width="708.0" height="425.3" fill="none" stroke="#333" stroke-width="1.4"/>
<line x1="800.5" y1="501.2" x2="804.8" y2="501.2" stroke="#333" stroke-width="1.2"/>
<text x="796.3" y="505.5" text-anchor="end" font-family='"Liberation Serif", "Times New Roman", serif' font-size="12.5" fill="#222">0</text>
<line x1="800.5" y1="410.5" x2="804.8" y2="410.5" stroke="#333" stroke-width="1.2"/>
<text x="796.3" y="414.8" text-anchor="end" font-family='"Liberation Serif", "Times New Roman", serif' font-size="12.5" fill="#222">5000</text>
<line x1="800.5" y1="319.8" x2="804.8" y2="319.8" stroke="#333" stroke-width="1.2"/>
<text x="796.3" y="324.1" text-anchor="end" font-family='"Liberation Serif", "Times New Roman", serif' font-size="12.5" fill="#222">10000</text>
<line x1="800.5" y1="229.1" x2="804.8" y2="229.1" stroke="#333" stroke-width="1.2"/>
<text x="796.3" y="233.4" text-anchor="end" font-family='"Liberation Serif", "Times New Roman", serif' font-size="12.5" fill="#222">15000</text>
<line x1="800.5" y1="138.4" x2="804.8" y2="138.4" stroke="#333" stroke-width="1.2"/>
<text x="796.3" y="142.7" text-anchor="end" font-family='"Liberation Serif", "Times New Roman", serif' font-size="12.5" fill="#222">20000</text>
<line x1="841.3" y1="502.6" x2="841.3" y2="507.2" stroke="#333" stroke-width="1.2"/>
<text x="841.3" y="520.8" text-anchor="middle" font-family='"Liberation Serif", "Times New Roman", serif' font-size="11.8" fill="#222">1</text>
<line x1="863.2" y1="502.6" x2="863.2" y2="507.2" stroke="#333" stroke-width="1.2"/>
<text x="863.2" y="520.8" text-anchor="middle" font-family='"Liberation Serif", "Times New Roman", serif' font-size="11.8" fill="#222">2</text>
<line x1="885.1" y1="502.6" x2="885.1" y2="507.2" stroke="#333" stroke-width="1.2"/>
<text x="885.1" y="520.8" text-anchor="middle" font-family='"Liberation Serif", "Times New Roman", serif' font-size="11.8" fill="#222">3</text>
<line x1="907.0" y1="502.6" x2="907.0" y2="507.2" stroke="#333" stroke-width="1.2"/>
<text x="907.0" y="520.8" text-anchor="middle" font-family='"Liberation Serif", "Times New Roman", serif' font-size="11.8" fill="#222">4</text>
<line x1="928.9" y1="502.6" x2="928.9" y2="507.2" stroke="#333" stroke-width="1.2"/>
<text x="928.9" y="520.8" text-anchor="middle" font-family='"Liberation Serif", "Times New Roman", serif' font-size="11.8" fill="#222">5</text>
<line x1="950.8" y1="502.6" x2="950.8" y2="507.2" stroke="#333" stroke-width="1.2"/>
<text x="950.8" y="520.8" text-anchor="middle" font-family='"Liberation Serif", "Times New Roman", serif' font-size="11.8" fill="#222">6</text>
<line x1="972.7" y1="502.6" x2="972.7" y2="507.2" stroke="#333" stroke-width="1.2"/>
<text x="972.7" y="520.8" text-anchor="middle" font-family='"Liberation Serif", "Times New Roman", serif' font-size="11.8" fill="#222">7</text>
<line x1="994.6" y1="502.6" x2="994.6" y2="507.2" stroke="#333" stroke-width="1.2"/>
<text x="994.6" y="520.8" text-anchor="middle" font-family='"Liberation Serif", "Times New Roman", serif' font-size="11.8" fill="#222">8</text>
<line x1="1016.5" y1="502.6" x2="1016.5" y2="507.2" stroke="#333" stroke-width="1.2"/>
<text x="1016.5" y="520.8" text-anchor="middle" font-family='"Liberation Serif", "Times New Roman", serif' font-size="11.8" fill="#222">9</text>
<line x1="1038.4" y1="502.6" x2="1038.4" y2="507.2" stroke="#333" stroke-width="1.2"/>
<text x="1038.4" y="520.8" text-anchor="middle" font-family='"Liberation Serif", "Times New Roman", serif' font-size="11.8" fill="#222">10</text>
<line x1="1060.3" y1="502.6" x2="1060.3" y2="507.2" stroke="#333" stroke-width="1.2"/>
<text x="1060.3" y="520.8" text-anchor="middle" font-family='"Liberation Serif", "Times New Roman", serif' font-size="11.8" fill="#222">11</text>
<line x1="1082.2" y1="502.6" x2="1082.2" y2="507.2" stroke="#333" stroke-width="1.2"/>
<text x="1082.2" y="520.8" text-anchor="middle" font-family='"Liberation Serif", "Times New Roman", serif' font-size="11.8" fill="#222">12</text>
<line x1="1104.1" y1="502.6" x2="1104.1" y2="507.2" stroke="#333" stroke-width="1.2"/>
<text x="1104.1" y="520.8" text-anchor="middle" font-family='"Liberation Serif", "Times New Roman", serif' font-size="11.8" fill="#222">13</text>
<line x1="1126.0" y1="502.6" x2="1126.0" y2="507.2" stroke="#333" stroke-width="1.2"/>
<text x="1126.0" y="520.8" text-anchor="middle" font-family='"Liberation Serif", "Times New Roman", serif' font-size="11.8" fill="#222">14</text>
<line x1="1147.9" y1="502.6" x2="1147.9" y2="507.2" stroke="#333" stroke-width="1.2"/>
<text x="1147.9" y="520.8" text-anchor="middle" font-family='"Liberation Serif", "Times New Roman", serif' font-size="11.8" fill="#222">15</text>
<line x1="1169.8" y1="502.6" x2="1169.8" y2="507.2" stroke="#333" stroke-width="1.2"/>
<text x="1169.8" y="520.8" text-anchor="middle" font-family='"Liberation Serif", "Times New Roman", serif' font-size="11.8" fill="#222">16</text>
<line x1="1191.7" y1="502.6" x2="1191.7" y2="507.2" stroke="#333" stroke-width="1.2"/>
<text x="1191.7" y="520.8" text-anchor="middle" font-family='"Liberation Serif", "Times New Roman", serif' font-size="11.8" fill="#222">17</text>
<line x1="1213.6" y1="502.6" x2="1213.6" y2="507.2" stroke="#333" stroke-width="1.2"/>
<text x="1213.6" y="520.8" text-anchor="middle" font-family='"Liberation Serif", "Times New Roman", serif' font-size="11.8" fill="#222">18</text>
<line x1="1235.5" y1="502.6" x2="1235.5" y2="507.2" stroke="#333" stroke-width="1.2"/>
<text x="1235.5" y="520.8" text-anchor="middle" font-family='"Liberation Serif", "Times New Roman", serif' font-size="11.8" fill="#222">19</text>
<line x1="1257.4" y1="502.6" x2="1257.4" y2="507.2" stroke="#333" stroke-width="1.2"/>
<text x="1257.4" y="520.8" text-anchor="middle" font-family='"Liberation Serif", "Times New Roman", serif' font-size="11.8" fill="#222">20</text>
<line x1="1279.3" y1="502.6" x2="1279.3" y2="507.2" stroke="#333" stroke-width="1.2"/>
<text x="1279.3" y="520.8" text-anchor="middle" font-family='"Liberation Serif", "Times New Roman", serif' font-size="11.8" fill="#222">21</text>
<line x1="1301.2" y1="502.6" x2="1301.2" y2="507.2" stroke="#333" stroke-width="1.2"/>
<text x="1301.2" y="520.8" text-anchor="middle" font-family='"Liberation Serif", "Times New Roman", serif' font-size="11.8" fill="#222">22</text>
<line x1="1323.1" y1="502.6" x2="1323.1" y2="507.2" stroke="#333" stroke-width="1.2"/>
<text x="1323.1" y="520.8" text-anchor="middle" font-family='"Liberation Serif", "Times New Roman", serif' font-size="11.8" fill="#222">23</text>
<line x1="1345.0" y1="502.6" x2="1345.0" y2="507.2" stroke="#333" stroke-width="1.2"/>
<text x="1345.0" y="520.8" text-anchor="middle" font-family='"Liberation Serif", "Times New Roman", serif' font-size="11.8" fill="#222">24</text>
<line x1="1366.9" y1="502.6" x2="1366.9" y2="507.2" stroke="#333" stroke-width="1.2"/>
<text x="1366.9" y="520.8" text-anchor="middle" font-family='"Liberation Serif", "Times New Roman", serif' font-size="11.8" fill="#222">25</text>
<line x1="1388.8" y1="502.6" x2="1388.8" y2="507.2" stroke="#333" stroke-width="1.2"/>
<text x="1388.8" y="520.8" text-anchor="middle" font-family='"Liberation Serif", "Times New Roman", serif' font-size="11.8" fill="#222">26</text>
<line x1="1410.7" y1="502.6" x2="1410.7" y2="507.2" stroke="#333" stroke-width="1.2"/>
<text x="1410.7" y="520.8" text-anchor="middle" font-family='"Liberation Serif", "Times New Roman", serif' font-size="11.8" fill="#222">27</text>
<line x1="1432.6" y1="502.6" x2="1432.6" y2="507.2" stroke="#333" stroke-width="1.2"/>
<text x="1432.6" y="520.8" text-anchor="middle" font-family='"Liberation Serif", "Times New Roman", serif' font-size="11.8" fill="#222">28</text>
<line x1="1454.5" y1="502.6" x2="1454.5" y2="507.2" stroke="#333" stroke-width="1.2"/>
<text x="1454.5" y="520.8" text-anchor="middle" font-family='"Liberation Serif", "Times New Roman", serif' font-size="11.8" fill="#222">29</text>
<line x1="1476.4" y1="502.6" x2="1476.4" y2="507.2" stroke="#333" stroke-width="1.2"/>
<text x="1476.4" y="520.8" text-anchor="middle" font-family='"Liberation Serif", "Times New Roman", serif' font-size="11.8" fill="#222">30</text>
<text x="1158.5" y="540.7" text-anchor="middle" font-family='"Liberation Serif", "Times New Roman", serif' font-weight="bold" font-size="17.9" fill="#111">Number of Genomes</text>
<text x="0" y="0" transform="translate(756 290) rotate(-90)" text-anchor="middle" font-family='"Liberation Serif", "Times New Roman", serif' font-weight="bold" font-size="17.8" fill="#111">Pan/Core genome size</text>
<rect x="858.8" y="459.6" width="8.8" height="5.1" fill="#ffb43a" stroke="#ffa000" stroke-width="1.4"/><line x1="857.8" y1="462.1" x2="868.6" y2="462.1" stroke="#ffa000" stroke-width="2.6"/><line x1="863.2" y1="455.6" x2="863.2" y2="471.3" stroke="#087a10" stroke-width="1.9" stroke-linecap="round"/>
<rect x="880.7" y="466.1" width="8.8" height="4.5" fill="#ffb43a" stroke="#ffa000" stroke-width="1.4"/><line x1="879.7" y1="468.0" x2="890.5" y2="468.0" stroke="#ffa000" stroke-width="2.6"/><line x1="885.1" y1="462.1" x2="885.1" y2="479.1" stroke="#087a10" stroke-width="1.9" stroke-linecap="round"/>
<line x1="901.6" y1="473.2" x2="912.4" y2="473.2" stroke="#ffa000" stroke-width="2.6"/><line x1="907.0" y1="471.0" x2="907.0" y2="480.1" stroke="#087a10" stroke-width="1.9" stroke-linecap="round"/>
<line x1="923.5" y1="474.5" x2="934.3" y2="474.5" stroke="#ffa000" stroke-width="2.6"/><line x1="928.9" y1="472.3" x2="928.9" y2="481.0" stroke="#087a10" stroke-width="1.9" stroke-linecap="round"/>
<line x1="945.4" y1="475.4" x2="956.2" y2="475.4" stroke="#ffa000" stroke-width="2.6"/><line x1="950.8" y1="473.2" x2="950.8" y2="482.0" stroke="#087a10" stroke-width="1.9" stroke-linecap="round"/>
<rect x="968.3" y="476.9" width="8.8" height="3.8" fill="#ffb43a" stroke="#ffa000" stroke-width="1.4"/><line x1="967.3" y1="478.4" x2="978.1" y2="478.4" stroke="#ffa000" stroke-width="2.6"/><line x1="972.7" y1="474.1" x2="972.7" y2="482.3" stroke="#087a10" stroke-width="1.9" stroke-linecap="round"/>
<rect x="990.2" y="477.8" width="8.8" height="3.5" fill="#ffb43a" stroke="#ffa000" stroke-width="1.4"/><line x1="989.2" y1="479.7" x2="1000.0" y2="479.7" stroke="#ffa000" stroke-width="2.6"/><line x1="994.6" y1="475.8" x2="994.6" y2="482.7" stroke="#087a10" stroke-width="1.9" stroke-linecap="round"/>
<line x1="1011.1" y1="481.4" x2="1021.9" y2="481.4" stroke="#ffa000" stroke-width="2.6"/><line x1="1016.5" y1="479.8" x2="1016.5" y2="482.6" stroke="#087a10" stroke-width="1.9" stroke-linecap="round"/>
<line x1="1033.0" y1="481.8" x2="1043.8" y2="481.8" stroke="#ffa000" stroke-width="2.2"/>
<line x1="1054.9" y1="481.9" x2="1065.7" y2="481.9" stroke="#ffa000" stroke-width="2.2"/>
<line x1="1076.8" y1="482.0" x2="1087.6" y2="482.0" stroke="#ffa000" stroke-width="2.2"/>
<line x1="1098.7" y1="482.1" x2="1109.5" y2="482.1" stroke="#ffa000" stroke-width="2.2"/>
<line x1="1120.6" y1="482.2" x2="1131.4" y2="482.2" stroke="#ffa000" stroke-width="2.2"/>
<line x1="1142.5" y1="482.4" x2="1153.3" y2="482.4" stroke="#ffa000" stroke-width="2.2"/>
<line x1="1164.4" y1="482.5" x2="1175.2" y2="482.5" stroke="#ffa000" stroke-width="2.2"/>
<line x1="1186.3" y1="482.6" x2="1197.1" y2="482.6" stroke="#ffa000" stroke-width="2.2"/>
<line x1="1208.2" y1="482.7" x2="1219.0" y2="482.7" stroke="#ffa000" stroke-width="2.2"/>
<line x1="1230.1" y1="482.8" x2="1240.9" y2="482.8" stroke="#ffa000" stroke-width="2.2"/>
<line x1="1252.0" y1="482.9" x2="1262.8" y2="482.9" stroke="#ffa000" stroke-width="2.2"/>
<line x1="1273.9" y1="483.0" x2="1284.7" y2="483.0" stroke="#ffa000" stroke-width="2.2"/>
<line x1="1295.8" y1="483.1" x2="1306.6" y2="483.1" stroke="#ffa000" stroke-width="2.2"/>
<line x1="1317.7" y1="483.2" x2="1328.5" y2="483.2" stroke="#ffa000" stroke-width="2.2"/>
<line x1="1339.6" y1="483.3" x2="1350.4" y2="483.3" stroke="#ffa000" stroke-width="2.2"/>
<line x1="1361.5" y1="483.4" x2="1372.3" y2="483.4" stroke="#ffa000" stroke-width="2.2"/>
<line x1="1383.4" y1="483.6" x2="1394.2" y2="483.6" stroke="#ffa000" stroke-width="2.2"/>
<line x1="1405.3" y1="483.7" x2="1416.1" y2="483.7" stroke="#ffa000" stroke-width="2.2"/>
<line x1="1427.2" y1="483.8" x2="1438.0" y2="483.8" stroke="#ffa000" stroke-width="2.2"/>
<line x1="1449.1" y1="483.9" x2="1459.9" y2="483.9" stroke="#ffa000" stroke-width="2.2"/>
<line x1="1471.0" y1="484.0" x2="1481.8" y2="484.0" stroke="#ffa000" stroke-width="2.2"/>
<line x1="1454.5" y1="479.0" x2="1454.5" y2="483.2" stroke="#087a10" stroke-width="1.9"/>
<rect x="836.9" y="431.8" width="8.8" height="6.2" fill="#58f4f6" stroke="#14f0f2" stroke-width="1.4"/><line x1="835.9" y1="435.0" x2="846.7" y2="435.0" stroke="#14f0f2" stroke-width="2.6"/><line x1="841.3" y1="427.0" x2="841.3" y2="445.3" stroke="#087a10" stroke-width="1.9" stroke-linecap="round"/>
<rect x="858.8" y="406.4" width="8.8" height="5.8" fill="#58f4f6" stroke="#14f0f2" stroke-width="1.4"/><line x1="857.8" y1="409.5" x2="868.6" y2="409.5" stroke="#14f0f2" stroke-width="2.6"/><line x1="863.2" y1="376.9" x2="863.2" y2="420.2" stroke="#087a10" stroke-width="1.9" stroke-linecap="round"/>
<rect x="880.7" y="385.3" width="8.8" height="8.4" fill="#58f4f6" stroke="#14f0f2" stroke-width="1.4"/><line x1="879.7" y1="389.0" x2="890.5" y2="389.0" stroke="#14f0f2" stroke-width="2.6"/><line x1="885.1" y1="371.3" x2="885.1" y2="405.3" stroke="#087a10" stroke-width="1.9" stroke-linecap="round"/>
<rect x="902.6" y="366.9" width="8.8" height="8.0" fill="#58f4f6" stroke="#14f0f2" stroke-width="1.4"/><line x1="901.6" y1="370.9" x2="912.4" y2="370.9" stroke="#14f0f2" stroke-width="2.6"/><line x1="907.0" y1="351.1" x2="907.0" y2="380.3" stroke="#087a10" stroke-width="1.9" stroke-linecap="round"/>
<rect x="924.5" y="350.9" width="8.8" height="7.0" fill="#58f4f6" stroke="#14f0f2" stroke-width="1.4"/><line x1="923.5" y1="354.4" x2="934.3" y2="354.4" stroke="#14f0f2" stroke-width="2.6"/><line x1="928.9" y1="331.0" x2="928.9" y2="366.6" stroke="#087a10" stroke-width="1.9" stroke-linecap="round"/>
<rect x="946.4" y="337.1" width="8.8" height="9.2" fill="#58f4f6" stroke="#14f0f2" stroke-width="1.4"/><line x1="945.4" y1="341.7" x2="956.2" y2="341.7" stroke="#14f0f2" stroke-width="2.6"/><line x1="950.8" y1="320.0" x2="950.8" y2="353.0" stroke="#087a10" stroke-width="1.9" stroke-linecap="round"/>
<rect x="968.3" y="310.7" width="8.8" height="19.0" fill="#58f4f6" stroke="#14f0f2" stroke-width="1.4"/><line x1="967.3" y1="319.1" x2="978.1" y2="319.1" stroke="#14f0f2" stroke-width="2.6"/><line x1="972.7" y1="299.9" x2="972.7" y2="339.2" stroke="#087a10" stroke-width="1.9" stroke-linecap="round"/>
<rect x="990.2" y="295.3" width="8.8" height="11.8" fill="#58f4f6" stroke="#14f0f2" stroke-width="1.4"/><line x1="989.2" y1="302.5" x2="1000.0" y2="302.5" stroke="#14f0f2" stroke-width="2.6"/><line x1="994.6" y1="285.8" x2="994.6" y2="317.8" stroke="#087a10" stroke-width="1.9" stroke-linecap="round"/>
<rect x="1012.1" y="277.7" width="8.8" height="7.1" fill="#58f4f6" stroke="#14f0f2" stroke-width="1.4"/><line x1="1011.1" y1="281.0" x2="1021.9" y2="281.0" stroke="#14f0f2" stroke-width="2.6"/><line x1="1016.5" y1="267.2" x2="1016.5" y2="289.5" stroke="#087a10" stroke-width="1.9" stroke-linecap="round"/>
<rect x="1034.0" y="268.4" width="8.8" height="4.9" fill="#58f4f6" stroke="#14f0f2" stroke-width="1.4"/><line x1="1033.0" y1="270.7" x2="1043.8" y2="270.7" stroke="#14f0f2" stroke-width="2.6"/><line x1="1038.4" y1="258.3" x2="1038.4" y2="276.2" stroke="#087a10" stroke-width="1.9" stroke-linecap="round"/>
<rect x="1055.9" y="247.0" width="8.8" height="12.1" fill="#58f4f6" stroke="#14f0f2" stroke-width="1.4"/><line x1="1054.9" y1="253.2" x2="1065.7" y2="253.2" stroke="#14f0f2" stroke-width="2.6"/><line x1="1060.3" y1="240.0" x2="1060.3" y2="265.8" stroke="#087a10" stroke-width="1.9" stroke-linecap="round"/>
<rect x="1077.8" y="237.9" width="8.8" height="8.4" fill="#58f4f6" stroke="#14f0f2" stroke-width="1.4"/><line x1="1076.8" y1="241.0" x2="1087.6" y2="241.0" stroke="#14f0f2" stroke-width="2.6"/><line x1="1082.2" y1="226.3" x2="1082.2" y2="255.7" stroke="#087a10" stroke-width="1.9" stroke-linecap="round"/>
<rect x="1099.7" y="226.6" width="8.8" height="6.5" fill="#58f4f6" stroke="#14f0f2" stroke-width="1.4"/><line x1="1098.7" y1="230.0" x2="1109.5" y2="230.0" stroke="#14f0f2" stroke-width="2.6"/><line x1="1104.1" y1="221.2" x2="1104.1" y2="239.1" stroke="#087a10" stroke-width="1.9" stroke-linecap="round"/>
<rect x="1121.6" y="220.6" width="8.8" height="4.2" fill="#58f4f6" stroke="#14f0f2" stroke-width="1.4"/><line x1="1120.6" y1="222.7" x2="1131.4" y2="222.7" stroke="#14f0f2" stroke-width="2.6"/><line x1="1126.0" y1="216.1" x2="1126.0" y2="232.5" stroke="#087a10" stroke-width="1.9" stroke-linecap="round"/>
<rect x="1143.5" y="214.2" width="8.8" height="3.1" fill="#58f4f6" stroke="#14f0f2" stroke-width="1.4"/><line x1="1142.5" y1="215.7" x2="1153.3" y2="215.7" stroke="#14f0f2" stroke-width="2.6"/><line x1="1147.9" y1="209.9" x2="1147.9" y2="223.3" stroke="#087a10" stroke-width="1.9" stroke-linecap="round"/>
<line x1="1164.4" y1="208.2" x2="1175.2" y2="208.2" stroke="#14f0f2" stroke-width="2.6"/><line x1="1169.8" y1="194.3" x2="1169.8" y2="217.4" stroke="#087a10" stroke-width="1.9" stroke-linecap="round"/>
<rect x="1187.3" y="194.0" width="8.8" height="7.7" fill="#58f4f6" stroke="#14f0f2" stroke-width="1.4"/><line x1="1186.3" y1="197.7" x2="1197.1" y2="197.7" stroke="#14f0f2" stroke-width="2.6"/><line x1="1191.7" y1="185.0" x2="1191.7" y2="207.1" stroke="#087a10" stroke-width="1.9" stroke-linecap="round"/>
<rect x="1209.2" y="186.2" width="8.8" height="8.4" fill="#58f4f6" stroke="#14f0f2" stroke-width="1.4"/><line x1="1208.2" y1="190.2" x2="1219.0" y2="190.2" stroke="#14f0f2" stroke-width="2.6"/><line x1="1213.6" y1="180.8" x2="1213.6" y2="199.6" stroke="#087a10" stroke-width="1.9" stroke-linecap="round"/>
<rect x="1231.1" y="172.6" width="8.8" height="10.7" fill="#58f4f6" stroke="#14f0f2" stroke-width="1.4"/><line x1="1230.1" y1="177.0" x2="1240.9" y2="177.0" stroke="#14f0f2" stroke-width="2.6"/><line x1="1235.5" y1="163.4" x2="1235.5" y2="185.5" stroke="#087a10" stroke-width="1.9" stroke-linecap="round"/>
<rect x="1253.0" y="167.3" width="8.8" height="6.2" fill="#58f4f6" stroke="#14f0f2" stroke-width="1.4"/><line x1="1252.0" y1="170.4" x2="1262.8" y2="170.4" stroke="#14f0f2" stroke-width="2.6"/><line x1="1257.4" y1="159.7" x2="1257.4" y2="177.6" stroke="#087a10" stroke-width="1.9" stroke-linecap="round"/>
<line x1="1273.9" y1="158.5" x2="1284.7" y2="158.5" stroke="#14f0f2" stroke-width="2.6"/><line x1="1279.3" y1="151.0" x2="1279.3" y2="164.2" stroke="#087a10" stroke-width="1.9" stroke-linecap="round"/>
<rect x="1296.8" y="150.0" width="8.8" height="2.7" fill="#58f4f6" stroke="#14f0f2" stroke-width="1.4"/><line x1="1295.8" y1="151.2" x2="1306.6" y2="151.2" stroke="#14f0f2" stroke-width="2.6"/><line x1="1301.2" y1="143.7" x2="1301.2" y2="159.1" stroke="#087a10" stroke-width="1.9" stroke-linecap="round"/>
<rect x="1318.7" y="140.0" width="8.8" height="5.2" fill="#58f4f6" stroke="#14f0f2" stroke-width="1.4"/><line x1="1317.7" y1="142.7" x2="1328.5" y2="142.7" stroke="#14f0f2" stroke-width="2.6"/><line x1="1323.1" y1="134.6" x2="1323.1" y2="150.2" stroke="#087a10" stroke-width="1.9" stroke-linecap="round"/>
<rect x="1340.6" y="132.9" width="8.8" height="5.1" fill="#58f4f6" stroke="#14f0f2" stroke-width="1.4"/><line x1="1339.6" y1="135.6" x2="1350.4" y2="135.6" stroke="#14f0f2" stroke-width="2.6"/><line x1="1345.0" y1="126.8" x2="1345.0" y2="142.6" stroke="#087a10" stroke-width="1.9" stroke-linecap="round"/>
<rect x="1362.5" y="125.6" width="8.8" height="5.4" fill="#58f4f6" stroke="#14f0f2" stroke-width="1.4"/><line x1="1361.5" y1="128.0" x2="1372.3" y2="128.0" stroke="#14f0f2" stroke-width="2.6"/><line x1="1366.9" y1="122.3" x2="1366.9" y2="136.2" stroke="#087a10" stroke-width="1.9" stroke-linecap="round"/>
<rect x="1384.4" y="118.8" width="8.8" height="4.4" fill="#58f4f6" stroke="#14f0f2" stroke-width="1.4"/><line x1="1383.4" y1="121.0" x2="1394.2" y2="121.0" stroke="#14f0f2" stroke-width="2.6"/><line x1="1388.8" y1="115.1" x2="1388.8" y2="128.6" stroke="#087a10" stroke-width="1.9" stroke-linecap="round"/>
<rect x="1406.3" y="114.7" width="8.8" height="3.3" fill="#58f4f6" stroke="#14f0f2" stroke-width="1.4"/><line x1="1405.3" y1="116.3" x2="1416.1" y2="116.3" stroke="#14f0f2" stroke-width="2.6"/><line x1="1410.7" y1="110.5" x2="1410.7" y2="124.5" stroke="#087a10" stroke-width="1.9" stroke-linecap="round"/>
<rect x="1428.2" y="108.5" width="8.8" height="3.0" fill="#58f4f6" stroke="#14f0f2" stroke-width="1.4"/><line x1="1427.2" y1="109.9" x2="1438.0" y2="109.9" stroke="#14f0f2" stroke-width="2.6"/><line x1="1432.6" y1="104.0" x2="1432.6" y2="116.1" stroke="#087a10" stroke-width="1.9" stroke-linecap="round"/>
<rect x="1450.1" y="102.4" width="8.8" height="2.1" fill="#58f4f6" stroke="#14f0f2" stroke-width="1.4"/><line x1="1449.1" y1="103.4" x2="1459.9" y2="103.4" stroke="#14f0f2" stroke-width="2.6"/><line x1="1454.5" y1="99.5" x2="1454.5" y2="108.7" stroke="#087a10" stroke-width="1.9" stroke-linecap="round"/>
<line x1="1471.0" y1="96.7" x2="1481.8" y2="96.7" stroke="#14f0f2" stroke-width="2.2"/>
<rect x="811.3" y="83.8" width="113.2" height="40.2" rx="2" fill="#fff" stroke="#d8d8d8" stroke-width="1"/>
<line x1="815.4" y1="93" x2="842.5" y2="93" stroke="#ff9900" stroke-width="1.6"/>
<line x1="815.4" y1="111.2" x2="842.5" y2="111.2" stroke="#00f0ff" stroke-width="1.6"/>
<text x="851.8" y="97.6" font-family='"Liberation Serif", "Times New Roman", serif' font-size="13" fill="#222">Core genome</text>
<text x="851.8" y="115.8" font-family='"Liberation Serif", "Times New Roman", serif' font-size="13" fill="#222">Pan genome</text>
<rect x="818" y="137" width="20.2" height="11.4" fill="#1edfe7"/>
<rect x="818" y="161.6" width="20.2" height="11" fill="#f5a83e"/>
<text x="847" y="145.6" font-family='"Liberation Sans", Arial, sans-serif' font-size="14.8" fill="#111">F(x)=3574.73*x</text>
<text x="949.6" y="139.8" font-family='"Liberation Sans", Arial, sans-serif' font-size="8.3" fill="#111">0.54</text>
<text x="847" y="171" font-family='"Liberation Sans", Arial, sans-serif' font-size="14.8" fill="#111" textLength="98" lengthAdjust="spacingAndGlyphs">F(x)=2160.42*e</text>
<text x="945.6" y="165.6" font-family='"Liberation Sans", Arial, sans-serif' font-size="8.3" fill="#111">(-0.04*x)</text>
<text x="755.5" y="615.5" font-family='"Liberation Sans", Arial, sans-serif' font-weight="bold" font-size="43.5" fill="#111">C</text><rect x="783.7" y="664.6" width="345.2" height="408.4" fill="none" stroke="#444" stroke-width="1.3"/><line x1="779.7" y1="1073.0" x2="783.7" y2="1073.0" stroke="#444" stroke-width="1.1"/><text x="777.2" y="1077.3" text-anchor="end" font-family='"Liberation Sans", Arial, sans-serif' font-size="14" fill="#111" textLength="6.9" lengthAdjust="spacingAndGlyphs">0</text><line x1="779.7" y1="1016.8" x2="783.7" y2="1016.8" stroke="#444" stroke-width="1.1"/><text x="777.2" y="1021.1" text-anchor="end" font-family='"Liberation Sans", Arial, sans-serif' font-size="14" fill="#111" textLength="13.9" lengthAdjust="spacingAndGlyphs">10</text><line x1="779.7" y1="960.6" x2="783.7" y2="960.6" stroke="#444" stroke-width="1.1"/><text x="777.2" y="964.9" text-anchor="end" font-family='"Liberation Sans", Arial, sans-serif' font-size="14" fill="#111" textLength="13.9" lengthAdjust="spacingAndGlyphs">20</text><line x1="779.7" y1="904.4" x2="783.7" y2="904.4" stroke="#444" stroke-width="1.1"/><text x="777.2" y="908.7" text-anchor="end" font-family='"Liberation Sans", Arial, sans-serif' font-size="14" fill="#111" textLength="13.9" lengthAdjust="spacingAndGlyphs">30</text><line x1="779.7" y1="848.2" x2="783.7" y2="848.2" stroke="#444" stroke-width="1.1"/><text x="777.2" y="852.5" text-anchor="end" font-family='"Liberation Sans", Arial, sans-serif' font-size="14" fill="#111" textLength="13.9" lengthAdjust="spacingAndGlyphs">40</text><line x1="779.7" y1="792.0" x2="783.7" y2="792.0" stroke="#444" stroke-width="1.1"/><text x="777.2" y="796.3" text-anchor="end" font-family='"Liberation Sans", Arial, sans-serif' font-size="14" fill="#111" textLength="13.9" lengthAdjust="spacingAndGlyphs">50</text><line x1="779.7" y1="735.8" x2="783.7" y2="735.8" stroke="#444" stroke-width="1.1"/><text x="777.2" y="740.1" text-anchor="end" font-family='"Liberation Sans", Arial, sans-serif' font-size="14" fill="#111" textLength="13.9" lengthAdjust="spacingAndGlyphs">60</text><line x1="779.7" y1="679.6" x2="783.7" y2="679.6" stroke="#444" stroke-width="1.1"/><text x="777.2" y="683.9" text-anchor="end" font-family='"Liberation Sans", Arial, sans-serif' font-size="14" fill="#111" textLength="13.9" lengthAdjust="spacingAndGlyphs">70</text><line x1="851.7" y1="1073.0" x2="851.7" y2="1076.3" stroke="#444" stroke-width="1.1"/><text x="0" y="0" transform="translate(855.2 1088.2) scale(0.92 1) rotate(-45)" text-anchor="end" font-family='"Liberation Sans", Arial, sans-serif' font-size="14.2" fill="#111">core_gene</text><rect x="919.7" y="702.1" width="73.2" height="370.9" fill="#042c48"/><line x1="956.3" y1="1073.0" x2="956.3" y2="1076.3" stroke="#444" stroke-width="1.1"/><text x="0" y="0" transform="translate(959.8 1088.2) scale(0.92 1) rotate(-45)" text-anchor="end" font-family='"Liberation Sans", Arial, sans-serif' font-size="14.2" fill="#111">accessory_gene</text><rect x="1024.3" y="1022.4" width="73.2" height="50.6" fill="#7a0000"/><line x1="1060.9" y1="1073.0" x2="1060.9" y2="1076.3" stroke="#444" stroke-width="1.1"/><text x="0" y="0" transform="translate(1064.4 1088.2) scale(0.92 1) rotate(-45)" text-anchor="end" font-family='"Liberation Sans", Arial, sans-serif' font-size="14.2" fill="#111">unique_gene</text><line x1="783.7" y1="1073.0" x2="1128.9" y2="1073.0" stroke="#444" stroke-width="1.3"/>
<text x="1156.7" y="615.5" font-family='"Liberation Sans", Arial, sans-serif' font-weight="bold" font-size="43.5" fill="#111">D</text><rect x="1187.3" y="664.6" width="341.6" height="408.4" fill="none" stroke="#444" stroke-width="1.3"/><line x1="1183.3" y1="1073.0" x2="1187.3" y2="1073.0" stroke="#444" stroke-width="1.1"/><text x="1180.8" y="1077.3" text-anchor="end" font-family='"Liberation Sans", Arial, sans-serif' font-size="14" fill="#111" textLength="6.9" lengthAdjust="spacingAndGlyphs">0</text><line x1="1183.3" y1="1016.8" x2="1187.3" y2="1016.8" stroke="#444" stroke-width="1.1"/><text x="1180.8" y="1021.1" text-anchor="end" font-family='"Liberation Sans", Arial, sans-serif' font-size="14" fill="#111" textLength="13.9" lengthAdjust="spacingAndGlyphs">10</text><line x1="1183.3" y1="960.6" x2="1187.3" y2="960.6" stroke="#444" stroke-width="1.1"/><text x="1180.8" y="964.9" text-anchor="end" font-family='"Liberation Sans", Arial, sans-serif' font-size="14" fill="#111" textLength="13.9" lengthAdjust="spacingAndGlyphs">20</text><line x1="1183.3" y1="904.4" x2="1187.3" y2="904.4" stroke="#444" stroke-width="1.1"/><text x="1180.8" y="908.7" text-anchor="end" font-family='"Liberation Sans", Arial, sans-serif' font-size="14" fill="#111" textLength="13.9" lengthAdjust="spacingAndGlyphs">30</text><line x1="1183.3" y1="848.2" x2="1187.3" y2="848.2" stroke="#444" stroke-width="1.1"/><text x="1180.8" y="852.5" text-anchor="end" font-family='"Liberation Sans", Arial, sans-serif' font-size="14" fill="#111" textLength="13.9" lengthAdjust="spacingAndGlyphs">40</text><line x1="1183.3" y1="792.0" x2="1187.3" y2="792.0" stroke="#444" stroke-width="1.1"/><text x="1180.8" y="796.3" text-anchor="end" font-family='"Liberation Sans", Arial, sans-serif' font-size="14" fill="#111" textLength="13.9" lengthAdjust="spacingAndGlyphs">50</text><line x1="1183.3" y1="735.8" x2="1187.3" y2="735.8" stroke="#444" stroke-width="1.1"/><text x="1180.8" y="740.1" text-anchor="end" font-family='"Liberation Sans", Arial, sans-serif' font-size="14" fill="#111" textLength="13.9" lengthAdjust="spacingAndGlyphs">60</text><line x1="1183.3" y1="679.6" x2="1187.3" y2="679.6" stroke="#444" stroke-width="1.1"/><text x="1180.8" y="683.9" text-anchor="end" font-family='"Liberation Sans", Arial, sans-serif' font-size="14" fill="#111" textLength="13.9" lengthAdjust="spacingAndGlyphs">70</text><line x1="1254.6" y1="1073.0" x2="1254.6" y2="1076.3" stroke="#444" stroke-width="1.1"/><text x="0" y="0" transform="translate(1258.1 1088.2) scale(0.92 1) rotate(-45)" text-anchor="end" font-family='"Liberation Sans", Arial, sans-serif' font-size="14.2" fill="#111">core_gene</text><rect x="1321.9" y="1033.7" width="72.5" height="39.3" fill="#042c48"/><line x1="1358.1" y1="1073.0" x2="1358.1" y2="1076.3" stroke="#444" stroke-width="1.1"/><text x="0" y="0" transform="translate(1361.6 1088.2) scale(0.92 1) rotate(-45)" text-anchor="end" font-family='"Liberation Sans", Arial, sans-serif' font-size="14.2" fill="#111">accessory_gene</text><rect x="1425.4" y="983.1" width="72.5" height="89.9" fill="#7a0000"/><line x1="1461.6" y1="1073.0" x2="1461.6" y2="1076.3" stroke="#444" stroke-width="1.1"/><text x="0" y="0" transform="translate(1465.1 1088.2) scale(0.92 1) rotate(-45)" text-anchor="end" font-family='"Liberation Sans", Arial, sans-serif' font-size="14.2" fill="#111">unique_gene</text><line x1="1187.3" y1="1073.0" x2="1528.9" y2="1073.0" stroke="#444" stroke-width="1.3"/>
</svg>
</body></html>
